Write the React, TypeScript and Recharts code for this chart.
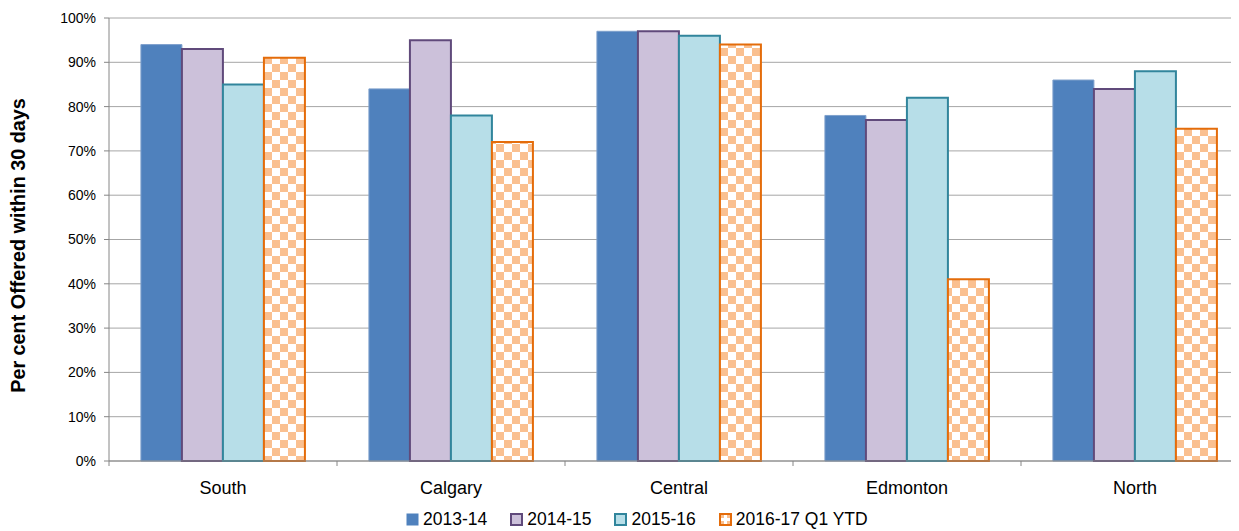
import React from 'react';
import { BarChart, Bar, XAxis, YAxis, CartesianGrid, Legend, Label } from 'recharts';

const categories = ['South', 'Calgary', 'Central', 'Edmonton', 'North'];
const s201314 = [94, 84, 97, 78, 86];
const s201415 = [93, 95, 97, 77, 84];
const s201516 = [85, 78, 96, 82, 88];
const s201617 = [91, 72, 94, 41, 75];
const seriesNames = ['2013-14', '2014-15', '2015-16', '2016-17 Q1 YTD'];
const yTicks = [0, 10, 20, 30, 40, 50, 60, 70, 80, 90, 100];
const yLabel = 'Per cent Offered within 30 days';

const data = categories.map((c, i) => ({
  name: c,
  a: s201314[i],
  b: s201415[i],
  c: s201516[i],
  d: s201617[i],
}));

const FONT = '"Liberation Sans", Arial, sans-serif';
const AXIS = '#868686';

const styles = [
  { fill: '#4F81BD', stroke: '#7FA0CC', sw: 1 },
  { fill: '#CCC1DA', stroke: '#604A7B', sw: 2 },
  { fill: '#B7DEE8', stroke: '#31859C', sw: 2 },
  { fill: 'url(#chk)', stroke: '#E46C0A', sw: 2 },
];

const XTick = (props: any) => {
  const { x, y, payload, index, visibleTicksCount } = props;
  const off = payload && payload.offset ? payload.offset : 0;
  const last = index === (visibleTicksCount ?? categories.length) - 1;
  return (
    <g>
      <line x1={x - off} x2={x - off} y1={y} y2={y + 5} stroke={AXIS} strokeWidth={1} />
      {last && <line x1={x + off} x2={x + off} y1={y} y2={y + 5} stroke={AXIS} strokeWidth={1} />}
      <text x={x} y={y + 20} dy="0.71em" textAnchor="middle" fontFamily={FONT} fontSize={18} fill="#000">
        {payload.value}
      </text>
    </g>
  );
};

const YLabelContent = (props: any) => {
  const vb = props.viewBox || { x: 0, y: 10, width: 101, height: 443 };
  const cx = vb.x + 10;
  const cy = vb.y + vb.height / 2 + 6;
  return (
    <text
      x={cx}
      y={cy}
      transform={`rotate(-90, ${cx}, ${cy})`}
      textAnchor="middle"
      dominantBaseline="central"
      fontFamily={FONT}
      fontWeight="bold"
      fontSize={19.8}
      fill="#000"
    >
      {yLabel}
    </text>
  );
};

const LegendIcon = ({ i }: { i: number }) => {
  const s = styles[i];
  return (
    <svg width={13} height={13} style={{ display: 'block' }}>
      <defs>
        <pattern id="chkLeg" width="8" height="8" patternUnits="userSpaceOnUse">
          <rect width="8" height="8" fill="#fff" />
          <rect width="5" height="5" fill="#FAC090" />
        </pattern>
      </defs>
      {i === 0 ? (
        <rect x={0.5} y={0.5} width={12} height={12} fill={s.fill} />
      ) : (
        <rect x={1} y={1} width={11} height={11} fill={i === 3 ? 'url(#chkLeg)' : s.fill} stroke={s.stroke} strokeWidth={2} />
      )}
    </svg>
  );
};

const LegendContent = () => (
  <div style={{ display: 'flex', alignItems: 'center', fontFamily: FONT, fontSize: 17.5, color: '#000', whiteSpace: 'nowrap' }}>
    {seriesNames.map((n, i) => (
      <div key={n} style={{ display: 'flex', alignItems: 'center', marginRight: 23 }}>
        <LegendIcon i={i} />
        <span style={{ marginLeft: 4 }}>{n}</span>
      </div>
    ))}
  </div>
);

export default function App() {
  return (
    <div style={{ width: 1231, height: 523, overflow: 'hidden' }}>
      <BarChart
        width={1250}
        height={523}
        data={data}
        margin={{ top: 10, right: 9, left: 0, bottom: 0 }}
        barCategoryGap="14%"
        barGap={0}
      >
        <defs>
          <pattern id="chk" width="16" height="16" patternUnits="userSpaceOnUse">
            <rect width="16" height="16" fill="#FFFFFF" />
            <rect width="8" height="8" fill="#FAC090" />
            <rect x="8" y="8" width="8" height="8" fill="#FAC090" />
          </pattern>
        </defs>
        <CartesianGrid vertical={false} stroke="#A6A6A6" strokeWidth={1} />
        <XAxis
          dataKey="name"
          height={70}
          axisLine={{ stroke: AXIS, strokeWidth: 1 }}
          tickLine={false}
          tickSize={0}
          tickMargin={0}
          interval={0}
          tick={<XTick />}
        />
        <YAxis
          width={101}
          domain={[0, 100]}
          ticks={yTicks}
          interval={0}
          tickFormatter={(v: number) => `${v}%`}
          axisLine={{ stroke: AXIS, strokeWidth: 1 }}
          tickLine={{ stroke: AXIS, strokeWidth: 1 }}
          tickSize={5}
          tickMargin={8}
          tick={{ fontFamily: FONT, fontSize: 14, fill: '#000' }}
        >
          <Label content={<YLabelContent />} />
        </YAxis>
        <Legend
          layout="horizontal"
          verticalAlign="middle"
          align="center"
          content={<LegendContent />}
          wrapperStyle={{ top: 501, left: 398, width: 'auto', height: 22 }}
        />
        <Bar dataKey="a" name={seriesNames[0]} fill={styles[0].fill} stroke={styles[0].stroke} strokeWidth={styles[0].sw} isAnimationActive={false} />
        <Bar dataKey="b" name={seriesNames[1]} fill={styles[1].fill} stroke={styles[1].stroke} strokeWidth={styles[1].sw} isAnimationActive={false} />
        <Bar dataKey="c" name={seriesNames[2]} fill={styles[2].fill} stroke={styles[2].stroke} strokeWidth={styles[2].sw} isAnimationActive={false} />
        <Bar dataKey="d" name={seriesNames[3]} fill={styles[3].fill} stroke={styles[3].stroke} strokeWidth={styles[3].sw} isAnimationActive={false} />
      </BarChart>
    </div>
  );
}
